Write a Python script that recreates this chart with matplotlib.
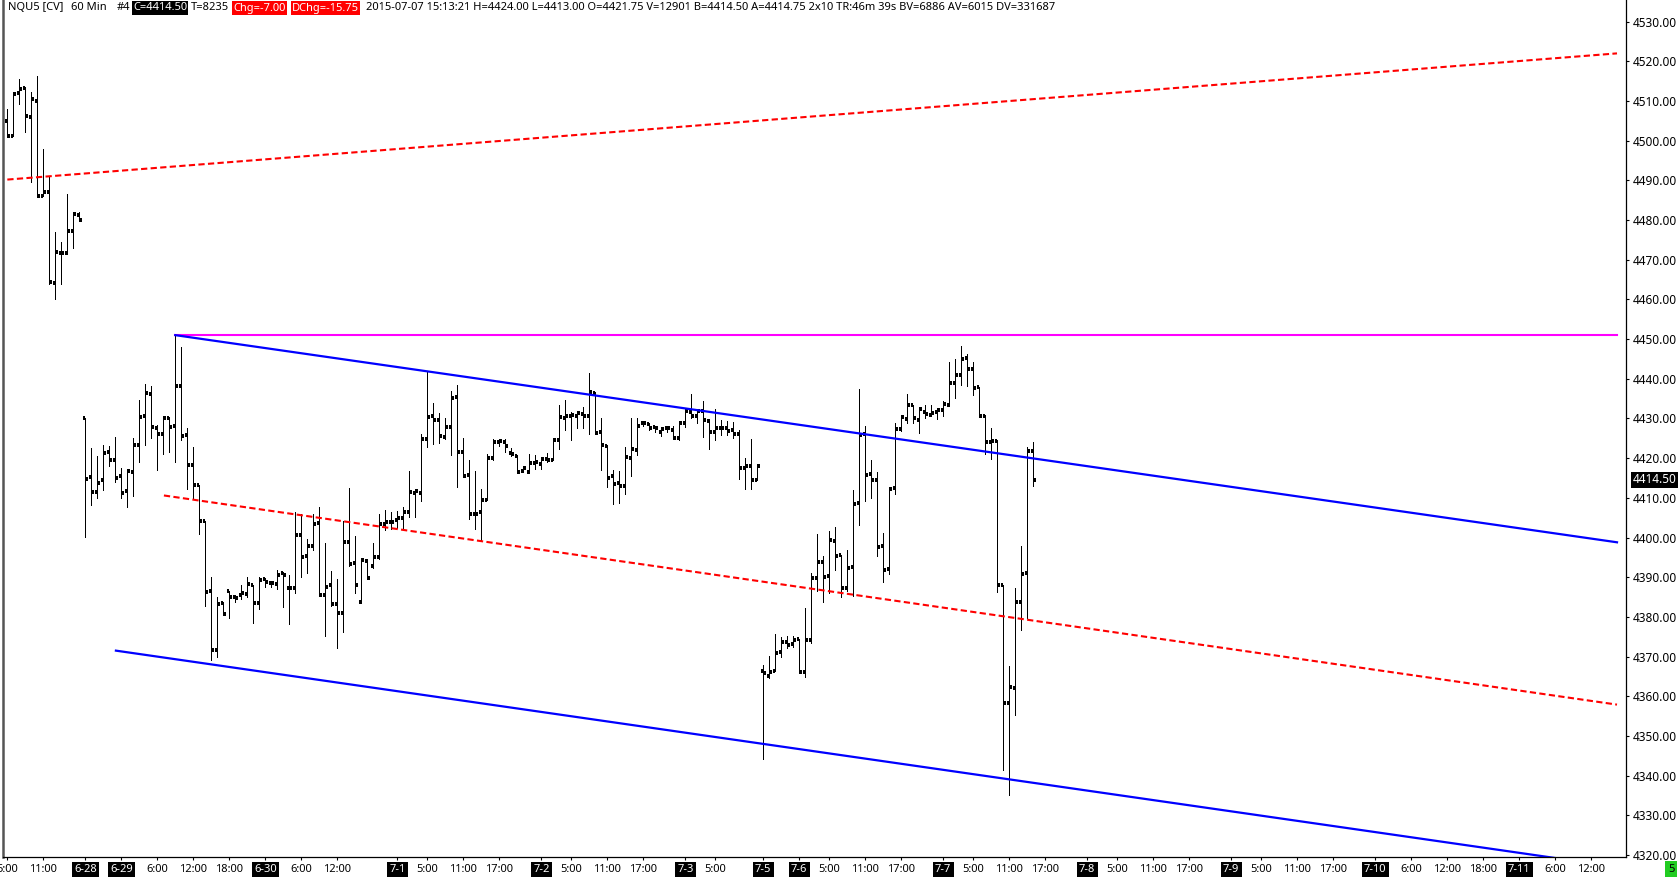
import numpy as np
import matplotlib.pyplot as plt
from matplotlib.transforms import IdentityTransform

plt.rcParams['font.family'] = ['Noto Sans', 'DejaVu Sans']

# NQU5 60 min bars (bar index = position on the axis)
opens = [4505.0, 4501.25, 4512.0, 4513.25, 4506.0, 4510.0, 4486.0, 4487.0, 4464.25, 4471.75, 4471.75, 4477.25, 4481.25,
         4430.0, 4415.25, 4411.5, 4414.5, 4421.5, 4419.5, 4415.5, 4411.75, 4416.5, 4423.25,
         4430.5, 4436.25, 4427.5, 4426.0, 4430.0, 4428.0, 4438.25, 4425.75, 4418.25, 4413.25,
         4404.25, 4386.5, 4371.75, 4383.5, 4386.5, 4385.0, 4385.5, 4385.75, 4388.0, 4383.5,
         4389.5, 4388.5, 4388.25, 4391.0, 4387.25, 4387.25, 4400.75, 4395.25, 4397.75, 4403.75,
         4385.5, 4388.0, 4383.25, 4381.0, 4399.0, 4393.5, 4383.75, 4394.0, 4392.75, 4395.0,
         4403.5, 4404.0, 4404.5, 4405.0, 4406.5, 4411.25,
         4411.25, 4424.75, 4430.5, 4429.5, 4425.25, 4427.75, 4435.5, 4421.5, 4415.75, 4406.0,
         4406.5, 4409.5, 4420.0, 4424.0, 4424.0, 4421.25, 4420.5, 4416.75, 4416.5, 4418.75,
         4418.5, 4419.75, 4419.5, 4424.5, 4430.0, 4430.75, 4430.75, 4431.25, 4430.5, 4436.5,
         4426.5, 4423.0, 4415.5, 4413.75, 4413.0, 4420.0, 4422.0, 4428.75, 4428.5, 4427.75,
         4426.5, 4427.5, 4427.0, 4425.0, 4428.75, 4431.75, 4430.75, 4432.0, 4429.25, 4426.5,
         4427.5, 4427.5, 4427.0, 4426.0, 4417.5, 4418.0, 4414.5,
         4366.25, 4365.0, 4366.25, 4371.25, 4373.75, 4373.25, 4374.5, 4366.0, 4374.25, 4389.75,
         4393.75, 4390.25, 4399.25, 4395.5, 4387.25, 4392.5, 4408.75, 4426.0, 4416.0, 4414.5,
         4397.75, 4392.0, 4412.5, 4427.25, 4429.75, 4433.5, 4429.5, 4431.75, 4431.0, 4431.75,
         4432.25, 4433.5, 4439.0, 4441.0, 4445.25, 4442.5, 4438.0, 4430.75, 4424.0, 4424.25,
         4388.0, 4358.25, 4362.0, 4383.75, 4391.0, 4421.75]
highs = [4508.0, 4512.0, 4515.5, 4513.5, 4512.25, 4516.25, 4498.0, 4490.75, 4477.0, 4474.5, 4486.5, 4482.0, 4482.0,
         4430.0, 4422.5, 4420.5, 4423.25, 4423.0, 4425.25, 4417.5, 4417.25, 4425.0, 4434.75,
         4438.75, 4438.25, 4428.25, 4430.25, 4430.25, 4451.0, 4448.0, 4427.5, 4422.75, 4413.25,
         4404.25, 4390.0, 4385.0, 4383.75, 4386.5, 4385.5, 4388.0, 4390.0, 4388.0, 4390.0,
         4389.75, 4389.0, 4391.75, 4391.25, 4390.5, 4406.5, 4406.0, 4399.75, 4406.0, 4407.75,
         4398.5, 4391.5, 4389.5, 4404.25, 4412.5, 4400.5, 4394.75, 4394.5, 4398.5, 4406.0,
         4407.0, 4406.5, 4406.75, 4407.75, 4416.75, 4412.0,
         4426.0, 4442.0, 4434.0, 4431.5, 4430.0, 4437.0, 4438.5, 4425.0, 4419.5, 4416.75,
         4412.25, 4421.0, 4424.75, 4424.5, 4424.75, 4422.5, 4420.75, 4418.0, 4421.0, 4420.75,
         4420.25, 4421.25, 4424.5, 4433.5, 4434.75, 4431.75, 4431.75, 4433.0, 4441.5, 4436.75,
         4430.0, 4423.25, 4417.0, 4416.75, 4422.75, 4430.0, 4430.0, 4429.25, 4428.75, 4428.0,
         4427.5, 4428.0, 4428.0, 4429.0, 4432.5, 4436.25, 4432.0, 4434.5, 4429.75, 4432.5,
         4429.5, 4429.25, 4429.0, 4427.0, 4420.0, 4424.75, 4418.5,
         4368.0, 4370.25, 4375.75, 4375.0, 4375.25, 4375.25, 4374.5, 4382.25, 4391.0, 4401.0,
         4395.25, 4401.75, 4402.75, 4395.5, 4396.75, 4412.0, 4437.5, 4428.0, 4419.5, 4416.5,
         4401.25, 4412.75, 4428.75, 4430.75, 4436.25, 4433.5, 4432.75, 4433.5, 4433.5, 4432.5,
         4434.5, 4444.25, 4445.0, 4448.25, 4446.25, 4444.25, 4438.0, 4431.0, 4427.5, 4424.5,
         4388.0, 4367.75, 4387.25, 4397.75, 4422.75, 4424.0]
lows = [4501.25, 4501.25, 4509.25, 4502.25, 4489.5, 4486.0, 4486.0, 4464.0, 4460.0, 4464.0, 4471.5, 4473.0, 4480.0,
        4400.25, 4408.25, 4410.0, 4412.0, 4418.0, 4414.0, 4410.0, 4407.75, 4410.5, 4419.0,
        4423.25, 4425.0, 4417.0, 4421.0, 4421.5, 4419.0, 4424.5, 4412.25, 4410.0, 4401.0,
        4382.75, 4369.25, 4370.0, 4380.5, 4379.75, 4383.75, 4384.5, 4385.0, 4378.5, 4382.0,
        4387.5, 4387.5, 4387.0, 4382.5, 4378.25, 4386.0, 4390.0, 4391.0, 4396.75, 4385.25,
        4375.25, 4382.75, 4372.25, 4376.25, 4392.75, 4386.0, 4383.5, 4389.5, 4392.25, 4394.5,
        4402.0, 4402.25, 4402.5, 4402.5, 4405.25, 4405.25,
        4409.25, 4422.75, 4423.5, 4423.75, 4424.75, 4420.75, 4412.75, 4415.5, 4404.75, 4402.25,
        4399.5, 4409.5, 4419.5, 4423.0, 4421.5, 4420.5, 4416.5, 4416.5, 4416.25, 4417.25,
        4417.25, 4419.0, 4419.5, 4422.25, 4427.0, 4424.5, 4427.5, 4427.5, 4426.0, 4426.0,
        4417.0, 4412.75, 4408.5, 4408.75, 4411.0, 4415.5, 4420.75, 4428.0, 4427.0, 4426.5,
        4425.5, 4426.5, 4424.75, 4424.5, 4427.75, 4430.0, 4428.75, 4425.25, 4422.25, 4424.5,
        4425.75, 4425.75, 4425.0, 4414.75, 4412.25, 4412.25, 4414.5,
        4344.25, 4364.5, 4366.25, 4370.0, 4372.25, 4372.5, 4365.75, 4364.75, 4373.5, 4386.5,
        4383.75, 4386.0, 4391.75, 4385.0, 4386.5, 4385.25, 4403.25, 4409.25, 4410.0, 4395.25,
        4388.75, 4390.75, 4411.0, 4426.75, 4428.75, 4428.75, 4426.25, 4430.0, 4430.75, 4429.75,
        4430.5, 4433.25, 4435.25, 4438.5, 4438.25, 4436.0, 4430.75, 4421.0, 4419.75, 4386.25,
        4341.5, 4335.0, 4355.25, 4376.75, 4379.75, 4413.0]
closes = [4501.25, 4511.75, 4513.0, 4506.25, 4510.5, 4486.0, 4487.0, 4464.5, 4472.0, 4471.75, 4477.25, 4481.5, 4480.0,
          4414.75, 4411.5, 4413.75, 4421.25, 4419.5, 4415.0, 4411.25, 4416.75, 4423.25, 4430.25,
          4436.5, 4427.75, 4426.0, 4430.0, 4427.75, 4438.25, 4425.5, 4418.25, 4413.25, 4404.25,
          4386.25, 4371.75, 4383.25, 4380.75, 4385.0, 4384.75, 4386.0, 4388.25, 4383.5, 4389.25,
          4388.75, 4388.5, 4390.5, 4390.5, 4387.25, 4400.75, 4395.0, 4397.75, 4403.5, 4385.5,
          4387.5, 4383.25, 4381.0, 4399.0, 4393.25, 4388.0, 4394.25, 4389.75, 4395.0, 4403.5,
          4404.0, 4404.0, 4405.0, 4406.5, 4411.5, 4411.75,
          4424.75, 4430.25, 4429.5, 4425.5, 4427.75, 4435.25, 4421.5, 4415.5, 4406.0, 4406.0,
          4409.5, 4420.0, 4424.0, 4424.25, 4423.0, 4421.0, 4416.5, 4417.5, 4418.75, 4419.0,
          4419.75, 4419.5, 4424.5, 4430.25, 4430.75, 4431.0, 4431.5, 4430.75, 4436.75, 4426.25,
          4423.25, 4415.0, 4413.5, 4413.0, 4420.25, 4422.25, 4428.0, 4428.75, 4427.5, 4427.5,
          4427.25, 4427.5, 4425.0, 4428.75, 4432.0, 4430.5, 4432.0, 4429.5, 4426.5, 4427.5,
          4427.5, 4426.75, 4426.0, 4417.5, 4418.0, 4414.5, 4418.0,
          4365.75, 4366.0, 4371.0, 4373.75, 4373.0, 4374.25, 4366.0, 4374.25, 4389.75, 4393.75,
          4390.0, 4399.5, 4395.25, 4387.25, 4392.25, 4408.5, 4425.75, 4415.75, 4414.5, 4397.5,
          4391.75, 4412.25, 4427.25, 4430.25, 4433.5, 4430.0, 4432.5, 4431.25, 4431.5, 4432.25,
          4433.75, 4439.0, 4441.0, 4445.0, 4442.5, 4437.75, 4430.75, 4424.0, 4424.25, 4388.0,
          4358.25, 4362.25, 4383.75, 4390.75, 4421.75, 4414.5]

# time axis labels (bar index)
tick_pos = [0, 6, 13, 19, 25, 31, 37, 43, 49, 55, 65, 70, 76, 82, 89, 94, 100, 106, 113, 118,
            126, 132, 137, 143, 149, 156, 161, 167, 173, 180, 185, 191, 197, 204, 209, 215, 221,
            228, 234, 240, 246, 252, 258, 264]
tick_labels = ['5:00', '11:00', '6-28', '6-29', '6:00', '12:00', '18:00', '6-30', '6:00', '12:00',
               '7-1', '5:00', '11:00', '17:00', '7-2', '5:00', '11:00', '17:00', '7-3', '5:00',
               '7-5', '7-6', '5:00', '11:00', '17:00', '7-7', '5:00', '11:00', '17:00',
               '7-8', '5:00', '11:00', '17:00', '7-9', '5:00', '11:00', '17:00',
               '7-10', '6:00', '12:00', '18:00', '7-11', '6:00', '12:00']

price_ticks = np.arange(4320, 4531, 10)
last_price = 4414.50

# drawn tools: (bar index start/end, price start/end)
upper_red_x, upper_red_y = [0, 268.3], [4490.2, 4522.0]
resist_x, resist_y = [28, 268.3], [4451.0, 4451.0]
chan_top_x, chan_top_y = [28, 268.3], [4451.0, 4398.8]
chan_mid_x, chan_mid_y = [26.1, 268.3], [4410.6, 4357.9]
chan_bot_x, chan_bot_y = [18.1, 268.3], [4371.5, 4317.0]

W, H = 1678, 877
fig = plt.figure(figsize=(W / 100, H / 100), dpi=100)
ax = fig.add_axes([3 / W, 20 / H, 1623 / W, 857 / H])

x = np.arange(len(opens))
ax.vlines(x, lows, highs, color='black', lw=0.6, antialiased=False)
ax.hlines(opens, x - 0.42, x, color='black', lw=1.5, antialiased=False)
ax.hlines(closes, x, x + 0.42, color='black', lw=1.5, antialiased=False)

dash = (0, (3, 1.6))
ax.plot(upper_red_x, upper_red_y, color='#ff0000', lw=1.5, ls=dash)
ax.plot(chan_mid_x, chan_mid_y, color='#ff0000', lw=1.5, ls=dash)
ax.plot(resist_x, resist_y, color='#ff00ff', lw=1.5)
ax.plot(chan_top_x, chan_top_y, color='#0000ff', lw=1.6)
ax.plot(chan_bot_x, chan_bot_y, color='#0000ff', lw=1.6)

ax.set_xlim(-0.72, 269.8)
ax.set_ylim(4319.5, 4535.45)

ax.yaxis.tick_right()
ax.set_yticks(price_ticks)
ax.set_yticklabels([f'{p:.2f}' for p in price_ticks], fontsize=8.5)
ax.tick_params(axis='y', length=2.5, width=0.8, pad=2.5)
ax.set_xticks(tick_pos)
ax.set_xticklabels(tick_labels, fontsize=8)
ax.tick_params(axis='x', length=2.5, width=0.8, pad=2.5)
for lbl in ax.get_xticklabels():
    if '-' in lbl.get_text():
        lbl.set_color('white')
        lbl.set_bbox(dict(boxstyle='square,pad=0.2', fc='black', ec='none'))

ax.spines['top'].set_visible(False)
ax.spines['left'].set_color('#555555')
ax.spines['left'].set_linewidth(1.8)
ax.spines['right'].set_linewidth(0.9)
ax.spines['bottom'].set_linewidth(0.9)

# last price marker on the price scale
ax.text(1.004, last_price, f'{last_price:.2f}', transform=ax.get_yaxis_transform(),
        ha='left', va='center', fontsize=8.5, color='white', clip_on=False,
        bbox=dict(boxstyle='square,pad=0.12', fc='black', ec='none'))

# header line
px = IdentityTransform()
header = [
    (8, 'NQU5 [CV]', None, 'black'),
    (71, '60 Min', None, 'black'),
    (117, '#4', None, 'black'),
    (133, 'C=4414.50', 'black', 'white'),
    (191, 'T=8235', None, 'black'),
    (233, 'Chg=-7.00', 'red', 'white'),
    (292, 'DChg=-15.75', 'red', 'white'),
    (366, '2015-07-07 15:13:21 H=4424.00 L=4413.00 O=4421.75 V=12901 B=4414.50 A=4414.75 '
          '2x10 TR:46m 39s BV=6886 AV=6015 DV=331687', None, 'black'),
]
for hx, txt, bg, fg in header:
    box = dict(boxstyle='square,pad=0.12', fc=bg, ec='none') if bg else None
    fig.text(hx, H - 8, txt, transform=px, ha='left', va='center', fontsize=8, color=fg, bbox=box)

fig.text(1671, 8, '5', transform=px, ha='center', va='center', fontsize=8, color='black',
         bbox=dict(boxstyle='square,pad=0.25', fc='#22cc22', ec='none'))

fig.savefig('out.png', dpi=100)
